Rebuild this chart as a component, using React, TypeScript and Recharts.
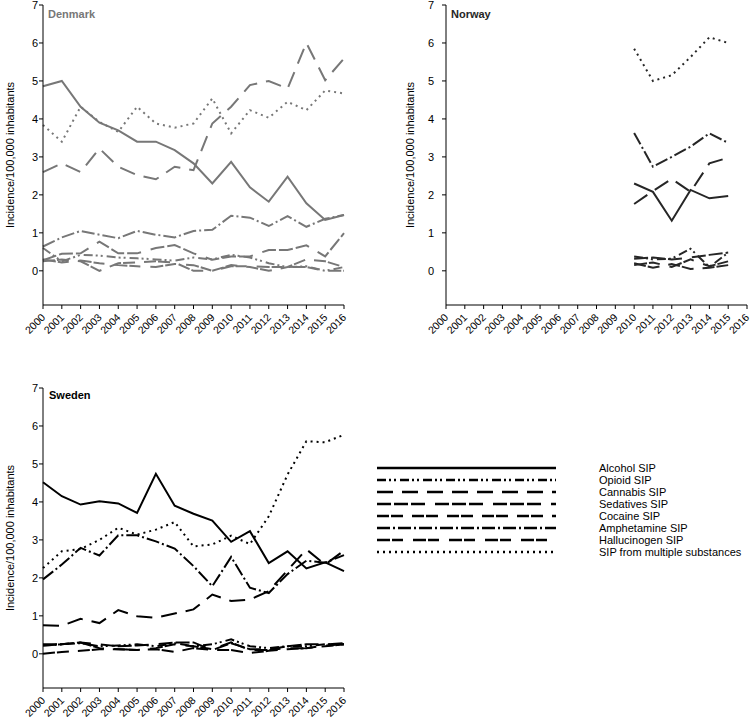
import React from "react";
import { LineChart, Line, XAxis, YAxis, Legend } from "recharts";

// years on the x axis
const YEARS = [2000, 2001, 2002, 2003, 2004, 2005, 2006, 2007, 2008, 2009, 2010, 2011, 2012, 2013, 2014, 2015, 2016];
const NO_YEARS = [2010, 2011, 2012, 2013, 2014, 2015];
const Y_TICKS = [0, 1, 2, 3, 4, 5, 6, 7];

const SERIES_KEYS = ["alcohol", "opioid", "cannabis", "sedatives", "cocaine", "amphetamine", "hallucinogen", "multiple"];
const SERIES_NAMES = [
  "Alcohol SIP",
  "Opioid SIP",
  "Cannabis SIP",
  "Sedatives SIP",
  "Cocaine SIP",
  "Amphetamine SIP",
  "Hallucinogen SIP",
  "SIP from multiple substances",
];

// Denmark
const DK_ALCOHOL = [4.86, 5.0, 4.32, 3.9, 3.7, 3.4, 3.4, 3.18, 2.83, 2.3, 2.87, 2.2, 1.82, 2.48, 1.78, 1.34, 1.47];
const DK_OPIOID = [0.6, 0.25, 0.42, 0.4, 0.35, 0.33, 0.3, 0.27, 0.35, 0.3, 0.42, 0.35, 0.2, 0.1, 0.12, 0.0, 0.1];
const DK_CANNABIS = [2.6, 2.83, 2.6, 3.22, 2.74, 2.52, 2.41, 2.74, 2.65, 3.88, 4.32, 4.89, 5.0, 4.8, 6.0, 5.02, 5.59];
const DK_SEDATIVES = [0.28, 0.45, 0.46, 0.77, 0.46, 0.46, 0.6, 0.68, 0.46, 0.29, 0.38, 0.38, 0.55, 0.55, 0.67, 0.38, 0.99];
const DK_COCAINE = [0.25, 0.3, 0.25, 0.0, 0.2, 0.22, 0.25, 0.22, 0.0, 0.0, 0.15, 0.1, 0.0, 0.1, 0.3, 0.25, 0.1];
const DK_AMPHETAMINE = [0.64, 0.88, 1.05, 0.95, 0.86, 1.05, 0.95, 0.88, 1.05, 1.08, 1.45, 1.4, 1.18, 1.44, 1.16, 1.37, 1.47];
const DK_HALLUCINOGEN = [0.3, 0.22, 0.27, 0.2, 0.15, 0.12, 0.1, 0.18, 0.15, 0.0, 0.12, 0.12, 0.1, 0.1, 0.1, 0.0, 0.0];
const DK_MULTIPLE = [3.84, 3.4, 4.32, 3.92, 3.66, 4.32, 3.88, 3.77, 3.88, 4.54, 3.62, 4.23, 4.03, 4.45, 4.23, 4.75, 4.67];

// Norway (2010-2015 only)
const NO_ALCOHOL = [2.3, 2.08, 1.32, 2.13, 1.91, 1.97];
const NO_OPIOID = [0.38, 0.3, 0.32, 0.58, 0.1, 0.48];
const NO_CANNABIS = [1.76, 2.1, 2.42, 2.08, 2.83, 2.98];
const NO_SEDATIVES = [0.32, 0.35, 0.3, 0.35, 0.42, 0.48];
const NO_COCAINE = [0.2, 0.08, 0.18, 0.05, 0.08, 0.15];
const NO_AMPHETAMINE = [3.63, 2.74, 3.0, 3.27, 3.62, 3.37];
const NO_HALLUCINOGEN = [0.15, 0.22, 0.1, 0.3, 0.12, 0.25];
const NO_MULTIPLE = [5.85, 5.0, 5.15, 5.63, 6.15, 6.0];

// Sweden
const SE_ALCOHOL = [4.52, 4.15, 3.93, 4.02, 3.96, 3.71, 4.74, 3.9, 3.69, 3.51, 2.95, 3.23, 2.39, 2.7, 2.25, 2.41, 2.18];
const SE_OPIOID = [0.22, 0.25, 0.28, 0.2, 0.22, 0.25, 0.2, 0.28, 0.2, 0.25, 0.38, 0.2, 0.15, 0.2, 0.2, 0.25, 0.25];
const SE_CANNABIS = [0.75, 0.74, 0.92, 0.81, 1.15, 0.99, 0.95, 1.06, 1.17, 1.56, 1.39, 1.43, 1.65, 2.2, 2.75, 2.35, 2.72];
const SE_SEDATIVES = [0.25, 0.25, 0.3, 0.25, 0.2, 0.22, 0.25, 0.3, 0.3, 0.1, 0.28, 0.12, 0.12, 0.2, 0.25, 0.25, 0.28];
const SE_COCAINE = [0.0, 0.05, 0.08, 0.12, 0.12, 0.1, 0.12, 0.05, 0.15, 0.1, 0.1, 0.02, 0.08, 0.12, 0.15, 0.2, 0.25];
const SE_AMPHETAMINE = [1.96, 2.35, 2.79, 2.59, 3.12, 3.12, 2.96, 2.77, 2.31, 1.78, 2.55, 1.74, 1.6, 2.1, 2.45, 2.4, 2.6];
const SE_HALLUCINOGEN = [0.22, 0.25, 0.3, 0.15, 0.12, 0.1, 0.15, 0.25, 0.2, 0.12, 0.3, 0.1, 0.1, 0.15, 0.15, 0.22, 0.25];
const SE_MULTIPLE = [2.26, 2.7, 2.76, 3.0, 3.32, 3.14, 3.27, 3.47, 2.83, 2.88, 3.11, 2.89, 3.62, 4.72, 5.6, 5.57, 5.77];

// line patterns, same order as SERIES_KEYS
const DASHES = ["", "9 3 2 3 2 4", "16 9", "14 3 14 3 14 10", "12 2 12 9", "13 3 2 3", "13 2 11 10", "2 4"];

const FONT = "'Liberation Sans', Arial, sans-serif";

function buildRows(years: number[], cols: number[][]) {
  return years.map((year, i) => {
    const row: any = { year };
    SERIES_KEYS.forEach((k, j) => {
      row[k] = cols[j][i];
    });
    return row;
  });
}

const DK_ROWS = buildRows(YEARS, [DK_ALCOHOL, DK_OPIOID, DK_CANNABIS, DK_SEDATIVES, DK_COCAINE, DK_AMPHETAMINE, DK_HALLUCINOGEN, DK_MULTIPLE]);
const NO_ROWS = buildRows(NO_YEARS, [NO_ALCOHOL, NO_OPIOID, NO_CANNABIS, NO_SEDATIVES, NO_COCAINE, NO_AMPHETAMINE, NO_HALLUCINOGEN, NO_MULTIPLE]);
const SE_ROWS = buildRows(YEARS, [SE_ALCOHOL, SE_OPIOID, SE_CANNABIS, SE_SEDATIVES, SE_COCAINE, SE_AMPHETAMINE, SE_HALLUCINOGEN, SE_MULTIPLE]);

const YearTick = (p: any) => {
  const { x, y, payload } = p;
  return (
    <g transform={`translate(${x + 3},${y + 7})`}>
      <text transform="rotate(-45)" textAnchor="end" fontSize={10.5} fontFamily={FONT} fill="#000">
        {payload.value}
      </text>
    </g>
  );
};

const LegendBox = () => (
  <svg width={373} height={100} style={{ overflow: "visible" }}>
    {SERIES_NAMES.map((name, i) => {
      const y = 8 + i * 12;
      return (
        <g key={name}>
          <line x1={0} x2={179} y1={y} y2={y} stroke="#000" strokeWidth={2.5} strokeDasharray={DASHES[i] || undefined} />
          <text x={222} y={y} dy="0.36em" fontSize={11} fontFamily={FONT} fill="#000">
            {name}
          </text>
        </g>
      );
    })}
  </svg>
);

interface PanelProps {
  rows: any[];
  color: string;
  width: number;
  left: number;
  top: number;
  axisWidth: number;
  labelX: number;
  tickMargin: number;
  rightMargin: number;
  withLegend?: boolean;
}

function Panel(props: PanelProps) {
  const { rows, color, width, left, top, axisWidth, labelX, tickMargin, rightMargin, withLegend } = props;
  const AxisLabel = (lp: any) => {
    const vb = lp.viewBox || { y: 5, height: 300 };
    const cy = vb.y + vb.height / 2;
    return (
      <text
        x={labelX}
        y={cy}
        transform={`rotate(-90, ${labelX}, ${cy})`}
        textAnchor="middle"
        fontSize={11}
        fontFamily={FONT}
        fill="#000"
      >
        Incidence/100,000 inhabitants
      </text>
    );
  };
  return (
    <div style={{ position: "absolute", left, top }}>
      <LineChart width={width} height={345} data={rows} margin={{ top: 5, right: rightMargin, left: 0, bottom: 0 }}>
        <XAxis
          dataKey="year"
          type="number"
          domain={[2000, 2016]}
          ticks={YEARS}
          interval={0}
          height={40}
          tickSize={4}
          stroke="#000"
          tick={<YearTick />}
        />
        <YAxis
          type="number"
          domain={[-0.9, 7]}
          ticks={Y_TICKS}
          interval={0}
          width={axisWidth}
          tickSize={4}
          tickMargin={tickMargin}
          stroke="#000"
          tick={{ fontSize: 11, fontFamily: FONT, fill: "#000" } as any}
          label={{ content: <AxisLabel /> } as any}
        />
        {SERIES_KEYS.map((k, i) => (
          <Line
            key={k}
            dataKey={k}
            name={SERIES_NAMES[i]}
            type="linear"
            stroke={color}
            strokeWidth={2}
            strokeDasharray={DASHES[i] || undefined}
            dot={false}
            activeDot={false}
            isAnimationActive={false}
          />
        ))}
        {withLegend && (
          <Legend
            layout="vertical"
            align="center"
            verticalAlign="middle"
            content={<LegendBox />}
            wrapperStyle={{ position: "absolute", left: 377, top: 77, width: 373, height: 100 }}
          />
        )}
      </LineChart>
    </div>
  );
}

export default function App() {
  return (
    <div style={{ position: "relative", width: 750, height: 721, background: "#fff", overflow: "hidden", fontFamily: FONT }}>
      <style>{`body { margin: 0; }`}</style>
      <Panel rows={DK_ROWS} color="#777777" width={370} left={0} top={0} axisWidth={43} labelX={13.5} tickMargin={1} rightMargin={26} />
      <Panel rows={NO_ROWS} color="#262626" width={370} left={380} top={0} axisWidth={66} labelX={33.5} tickMargin={8} rightMargin={3} />
      <Panel rows={SE_ROWS} color="#000000" width={750} left={0} top={383} axisWidth={43} labelX={13.5} tickMargin={1} rightMargin={406} withLegend />
      <svg width={750} height={721} style={{ position: "absolute", left: 0, top: 0, pointerEvents: "none" }}>
        <text x={48} y={18} fontSize={11} fontWeight="bold" fontFamily={FONT} fill="#777777">Denmark</text>
        <text x={451} y={18} fontSize={11} fontWeight="bold" fontFamily={FONT} fill="#262626">Norway</text>
        <text x={49} y={399} fontSize={11} fontWeight="bold" fontFamily={FONT} fill="#000">Sweden</text>
      </svg>
    </div>
  );
}
